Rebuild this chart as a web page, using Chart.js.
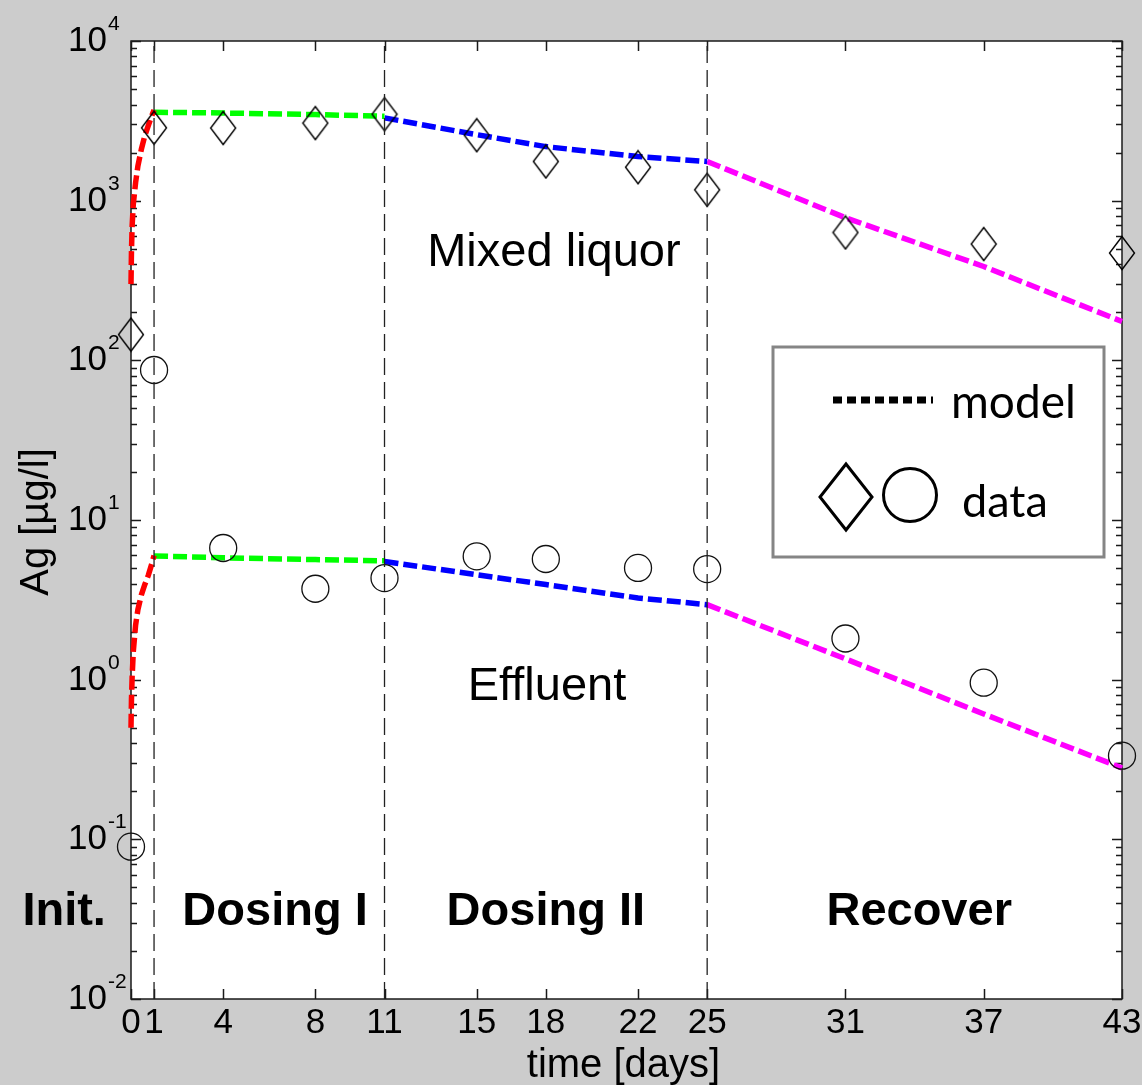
<!DOCTYPE html>
<html>
<head>
<meta charset="utf-8">
<script src="https://cdn.jsdelivr.net/npm/chart.js@4.4.1/dist/chart.umd.min.js"></script>
<style>
html,body{margin:0;padding:0;background:#cccccc;}
canvas{display:block;}
</style>
</head>
<body>
<canvas id="c" width="1142" height="1085"></canvas>
<script>
// ---------- data ----------
const xTicks = [0, 1, 4, 8, 11, 15, 18, 22, 25, 31, 37, 43];
const yTickValues = [0.01, 0.1, 1, 10, 100, 1000, 10000];
const yTickExps = ['-2', '-1', '0', '1', '2', '3', '4'];
const phaseBounds = [1, 11, 25];

// measured data (Mixed liquor: diamonds, Effluent: circles)
const dataDays = [0, 1, 4, 8, 11, 15, 18, 22, 25, 31, 37, 43];
const mixedData = [145, 2860, 2850, 3060, 3480, 2570, 1760, 1620, 1170, 632, 535, 470];
const effluentData = [0.090, 87, 6.68, 3.71, 4.33, 5.92, 5.70, 5.01, 4.93, 1.81, 0.957, 0.334];

// model curves
const initDays = [0, 0.02, 0.05, 0.1, 0.2, 0.3, 0.45, 0.6, 0.75, 0.9, 1.0];
const initMixed = [300, 480, 700, 950, 1300, 1650, 2100, 2550, 2950, 3400, 3700];
const initEffluent = [0.5, 0.75, 1.05, 1.5, 2.2, 2.75, 3.4, 3.95, 4.5, 5.3, 6.0];
const dose1Days = [1, 4, 8, 11];
const dose1Mixed = [3580, 3540, 3460, 3380];
const dose1Effluent = [5.95, 5.8, 5.65, 5.55];
const dose2Days = [11, 15, 18, 22, 25];
const dose2Mixed = [3300, 2590, 2180, 1890, 1760];
const dose2Effluent = [5.5, 4.54, 3.94, 3.25, 2.95];
const recDays = [25, 31, 37, 43];
const recMixed = [1760, 782, 387, 175];
const recEffluent = [2.95, 1.35, 0.61, 0.28];

// text annotations (data coordinates)
const annoTexts = ['Mixed liquor', 'Effluent'];
const annoX = [18.35, 18.05];
const annoY = [391, 0.75];
const phaseNames = ['Init.', 'Dosing I', 'Dosing II', 'Recover'];
const phaseX = [-2.9, 6.25, 18.0, 34.2];
const phaseY = 0.0292;

// ---------- helpers ----------
const pts = (xs, ys) => xs.map((x, i) => ({x: x, y: ys[i]}));

function makeDiamond(hw, hh, lw, color) {
  const c = document.createElement('canvas');
  c.width = Math.ceil(2 * hw + 2 * lw);
  c.height = Math.ceil(2 * hh + 2 * lw);
  const g = c.getContext('2d');
  const cx = c.width / 2, cy = c.height / 2;
  g.strokeStyle = color;
  g.lineWidth = lw;
  g.beginPath();
  g.moveTo(cx, cy - hh);
  g.lineTo(cx + hw, cy);
  g.lineTo(cx, cy + hh);
  g.lineTo(cx - hw, cy);
  g.closePath();
  g.stroke();
  return c;
}
const diamondImg = makeDiamond(12.5, 16.5, 1.4, '#000');

function modelLine(xs, ys, color) {
  return {
    type: 'line', data: pts(xs, ys), borderColor: color, borderWidth: 5.5,
    borderDash: [14, 5], borderCapStyle: 'butt', pointRadius: 0, showLine: true,
    tension: 0, fill: false, clip: false
  };
}
function vline(x) {
  return {
    type: 'line', data: [{x: x, y: 0.01}, {x: x, y: 10000}], borderColor: '#222',
    borderWidth: 1.3, borderDash: [17, 7], pointRadius: 0, showLine: true, fill: false, clip: false
  };
}

const datasets = [
  ...phaseBounds.map(vline),
  {
    label: 'Mixed liquor data', data: pts(dataDays, mixedData), pointStyle: diamondImg,
    pointRadius: 16, showLine: false, clip: false
  },
  {
    label: 'Effluent data', data: pts(dataDays, effluentData), pointStyle: 'circle',
    pointRadius: 13.5, borderColor: '#111', borderWidth: 1.3, backgroundColor: 'rgba(0,0,0,0)',
    showLine: false, clip: false
  },
  modelLine(initDays, initMixed, '#ff0000'),
  modelLine(initDays, initEffluent, '#ff0000'),
  modelLine(dose1Days, dose1Mixed, '#00ff00'),
  modelLine(dose1Days, dose1Effluent, '#00ff00'),
  modelLine(dose2Days, dose2Mixed, '#0000ff'),
  modelLine(dose2Days, dose2Effluent, '#0000ff'),
  modelLine(recDays, recMixed, '#ff00ff'),
  modelLine(recDays, recEffluent, '#ff00ff')
];

// ---------- plugins ----------
const bgPlugin = {
  id: 'bg',
  beforeDraw(chart) {
    const {ctx, chartArea: a} = chart;
    ctx.save();
    ctx.fillStyle = '#cccccc';
    ctx.fillRect(0, 0, chart.width, chart.height);
    ctx.fillStyle = '#ffffff';
    ctx.fillRect(a.left, a.top, a.right - a.left, a.bottom - a.top);
    ctx.restore();
  }
};

const axesPlugin = {
  id: 'axesBox',
  beforeDatasetsDraw(chart) {
    const {ctx, chartArea: a, scales} = chart;
    const xs = scales.x, ys = scales.y;
    ctx.save();
    ctx.strokeStyle = '#1a1a1a';
    ctx.lineWidth = 1.5;
    ctx.strokeRect(a.left, a.top, a.right - a.left, a.bottom - a.top);
    ctx.beginPath();
    xTicks.forEach(v => {
      const px = Math.round(xs.getPixelForValue(v)) + 0.5;
      ctx.moveTo(px, a.bottom); ctx.lineTo(px, a.bottom - 10);
      ctx.moveTo(px, a.top); ctx.lineTo(px, a.top + 10);
    });
    for (let e = -2; e <= 4; e++) {
      for (let m = 1; m <= 9; m++) {
        const v = m * Math.pow(10, e);
        if (v > 10000 * 1.0001) break;
        const py = Math.round(ys.getPixelForValue(v)) + 0.5;
        const len = (m === 1) ? 10 : 6;
        ctx.moveTo(a.left, py); ctx.lineTo(a.left + len, py);
        ctx.moveTo(a.right, py); ctx.lineTo(a.right - len, py);
      }
    }
    ctx.stroke();

    ctx.fillStyle = '#000';
    ctx.font = '35px "Liberation Sans", Arial, sans-serif';
    ctx.textAlign = 'center';
    ctx.textBaseline = 'alphabetic';
    xTicks.forEach(v => {
      ctx.fillText(String(v), xs.getPixelForValue(v), a.bottom + 34);
    });
    yTickValues.forEach((v, i) => {
      const py = ys.getPixelForValue(v);
      ctx.font = '35px "Liberation Sans", Arial, sans-serif';
      ctx.textAlign = 'right';
      ctx.fillText('10', a.left - 24, py + 10);
      ctx.font = '21px "Liberation Sans", Arial, sans-serif';
      ctx.textAlign = 'left';
      ctx.fillText(yTickExps[i], a.left - 23, py - 11);
    });

    ctx.font = '40px "Liberation Sans", Arial, sans-serif';
    ctx.textAlign = 'center';
    ctx.fillText('time [days]', (a.left + a.right) / 2 - 3, a.bottom + 78);
    ctx.save();
    ctx.translate(48, (a.top + a.bottom) / 2 + 2);
    ctx.rotate(-Math.PI / 2);
    ctx.fillText('Ag [µg/l]', 0, 0);
    ctx.restore();
    ctx.restore();
  }
};

const overlayPlugin = {
  id: 'overlay',
  afterDatasetsDraw(chart) {
    const {ctx, scales} = chart;
    const xs = scales.x, ys = scales.y;
    ctx.save();
    ctx.fillStyle = '#000';
    ctx.textAlign = 'center';
    ctx.textBaseline = 'alphabetic';
    ctx.font = '47px "Liberation Sans", Arial, sans-serif';
    annoTexts.forEach((t, i) => {
      ctx.fillText(t, xs.getPixelForValue(annoX[i]), ys.getPixelForValue(annoY[i]));
    });
    ctx.font = 'bold 47px "Liberation Sans", Arial, sans-serif';
    phaseNames.forEach((t, i) => {
      ctx.fillText(t, xs.getPixelForValue(phaseX[i]), ys.getPixelForValue(phaseY));
    });

    // legend box
    ctx.fillStyle = '#ffffff';
    ctx.fillRect(773, 347, 331, 210);
    ctx.strokeStyle = '#858585';
    ctx.lineWidth = 3;
    ctx.strokeRect(773, 347, 331, 210);
    ctx.strokeStyle = '#000';
    ctx.lineWidth = 7;
    ctx.setLineDash([9, 5]);
    ctx.lineCap = 'butt';
    ctx.beginPath();
    ctx.moveTo(833, 400); ctx.lineTo(933, 400);
    ctx.stroke();
    ctx.setLineDash([]);
    ctx.lineWidth = 3;
    ctx.beginPath();
    ctx.moveTo(846, 464); ctx.lineTo(872, 497); ctx.lineTo(846, 530); ctx.lineTo(820, 497); ctx.closePath();
    ctx.stroke();
    ctx.beginPath();
    ctx.arc(910, 495, 26.5, 0, Math.PI * 2);
    ctx.stroke();
    ctx.fillStyle = '#000';
    ctx.textAlign = 'left';
    ctx.font = '46px Lato, "Noto Sans", sans-serif';
    ctx.fillText('model', 951, 418);
    ctx.font = '45px Lato, "Noto Sans", sans-serif';
    ctx.fillText('data', 962, 517);
    ctx.restore();
  }
};

new Chart(document.getElementById('c'), {
  type: 'scatter',
  data: {datasets: datasets},
  options: {
    responsive: false,
    animation: false,
    layout: {padding: {left: 131, top: 41, right: 20, bottom: 86}},
    plugins: {legend: {display: false}, tooltip: {enabled: false}},
    scales: {
      x: {type: 'linear', min: 0, max: 43, display: false},
      y: {type: 'logarithmic', min: 0.01, max: 10000, display: false}
    }
  },
  plugins: [bgPlugin, axesPlugin, overlayPlugin]
});
</script>
</body>
</html>
